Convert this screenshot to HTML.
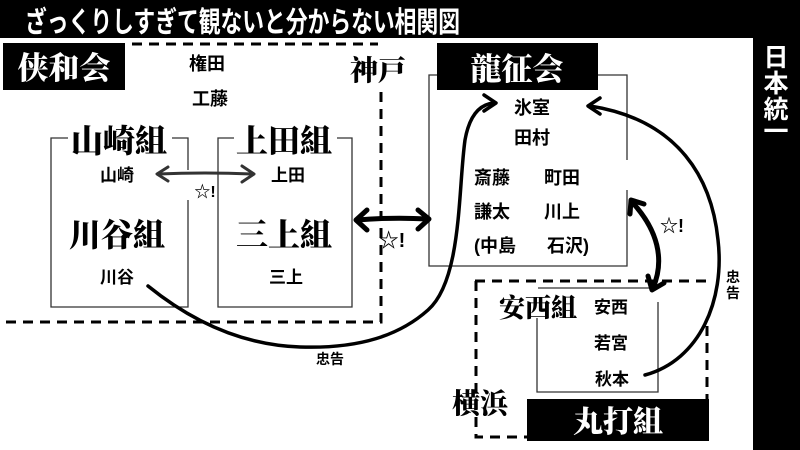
<!DOCTYPE html>
<html><head><meta charset="utf-8"><style>
html,body{margin:0;padding:0;background:#fff;width:800px;height:450px;overflow:hidden}
svg{display:block}
.s{font-family:"Liberation Sans","Noto Sans CJK JP",sans-serif;font-weight:bold}
.m{font-family:"Liberation Serif","Noto Serif CJK SC",serif;font-weight:900}
</style></head><body>
<svg width="800" height="450" viewBox="0 0 800 450" xmlns="http://www.w3.org/2000/svg">
<rect x="0" y="0" width="800" height="450" fill="#fff"/>
<rect x="0" y="0" width="800" height="38" fill="#000"/>
<text x="25" y="32" class="s" font-size="29" fill="#fff" textLength="435" lengthAdjust="spacingAndGlyphs" font-weight="normal">ざっくりしすぎて観ないと分からない相関図</text>
<rect x="753" y="0" width="47" height="450" fill="#000"/>
<g class="s" font-size="25" fill="#fff" text-anchor="middle" font-weight="normal">
<text x="776" y="66">日</text><text x="776" y="92">本</text><text x="776" y="118">統</text><text x="776" y="140">一</text></g>

<g stroke="#000" stroke-width="3" stroke-dasharray="10,7" fill="none">
<path d="M132 44 H378"/>
<path d="M381 92 V322 H0"/>
<path d="M475 281 H706"/>
<path d="M476 281 V437 H528"/>
<path d="M707 326 V400"/>
</g>

<rect x="3" y="43" width="122" height="47" fill="#000"/>
<text x="64" y="79" class="m" font-size="31" fill="#fff" text-anchor="middle">侠和会</text>
<text x="378" y="80" class="m" font-size="28" text-anchor="middle">神戸</text>
<g class="s" font-size="18" text-anchor="middle">
<text x="207" y="70">権田</text><text x="210" y="105">工藤</text>
</g>

<g stroke="#333" stroke-width="1.3" fill="none">
<path d="M68 138 H51 V307 H188 V200 M188 170 V138 H172"/>
<path d="M234 138 H218 V307 H352 V138 H337"/>
<path d="M446 75 H429 V266 H627 V190 M627 160 V75 H598"/>
<path d="M538 288 H658"/>
<path d="M537 318 V392 H658 V302"/>
</g>
<g class="m" font-size="32" text-anchor="middle">
<text x="119" y="152">山崎組</text><text x="284" y="152">上田組</text>
<text x="117" y="246">川谷組</text><text x="284" y="246">三上組</text>
</g>
<g class="s" font-size="17" text-anchor="middle">
<text x="117" y="181">山崎</text><text x="288" y="181">上田</text>
<text x="117" y="283">川谷</text><text x="286" y="283">三上</text>
</g>
<g stroke="#333" stroke-width="3" fill="none" stroke-linecap="round" stroke-linejoin="round">
<path d="M158 174 Q205 172 252 174"/>
<path d="M168 167 L157 174 L168 181"/>
<path d="M242 166 L254 174 L242 182"/>
</g>
<text x="205" y="197" class="s" font-size="16" text-anchor="middle">☆!</text>
<g stroke="#000" stroke-width="5" fill="none" stroke-linecap="round" stroke-linejoin="round">
<path d="M357 220 Q392 217 428 219"/>
<path d="M367 210 L356 220 L367 230"/>
<path d="M418 210 L429 219 L418 229"/>
</g>
<text x="392" y="247" class="s" font-size="20" text-anchor="middle">☆!</text>

<rect x="437" y="43" width="161" height="47" fill="#000"/>
<text x="517" y="80" class="m" font-size="31" fill="#fff" text-anchor="middle">龍征会</text>
<g class="s" font-size="18" text-anchor="middle">
<text x="532" y="114">氷室</text><text x="532" y="144">田村</text>
<text x="492" y="184">斎藤</text><text x="562" y="184">町田</text>
<text x="492" y="218">謙太</text><text x="562" y="218">川上</text>
<text x="495" y="252">(中島</text><text x="568" y="252">石沢)</text>
</g>

<g stroke="#000" stroke-width="3.5" fill="none" stroke-linecap="round" stroke-linejoin="round">
<path d="M148 286 C190 320 240 345 300 347 C360 349 400 335 428 310 C462 280 458 190 465 140 C470 112 482 104 494 103"/>
<path d="M484 95 L496 103 L484 111"/>
<path d="M645 375 C700 360 725 300 718 240 C712 180 680 120 590 106"/>
<path d="M600 98 L588 106 L600 114"/>
</g>
<g stroke="#000" stroke-width="5" fill="none" stroke-linecap="round" stroke-linejoin="round">
<path d="M632 202 C658 230 665 260 653 288"/>
<path d="M630 214 L631 200 L644 204"/>
<path d="M648 276 L652 290 L664 283"/>
</g>
<text x="672" y="232" class="s" font-size="18" text-anchor="middle">☆!</text>
<text x="330" y="364" class="s" font-size="14" text-anchor="middle" font-weight="normal">忠告</text>
<g class="s" font-size="14" text-anchor="middle" font-weight="normal"><text x="733" y="282">忠</text><text x="733" y="298">告</text></g>

<text x="538" y="317" class="m" font-size="26" text-anchor="middle">安西組</text>
<g class="s" font-size="17" text-anchor="middle">
<text x="611" y="313">安西</text><text x="611" y="349">若宮</text><text x="612" y="385">秋本</text>
</g>
<text x="480" y="413" class="m" font-size="28" text-anchor="middle">横浜</text>
<rect x="527" y="399" width="182" height="42" fill="#000"/>
<text x="618" y="432" class="m" font-size="30" fill="#fff" text-anchor="middle">丸打組</text>
</svg>
</body></html>
